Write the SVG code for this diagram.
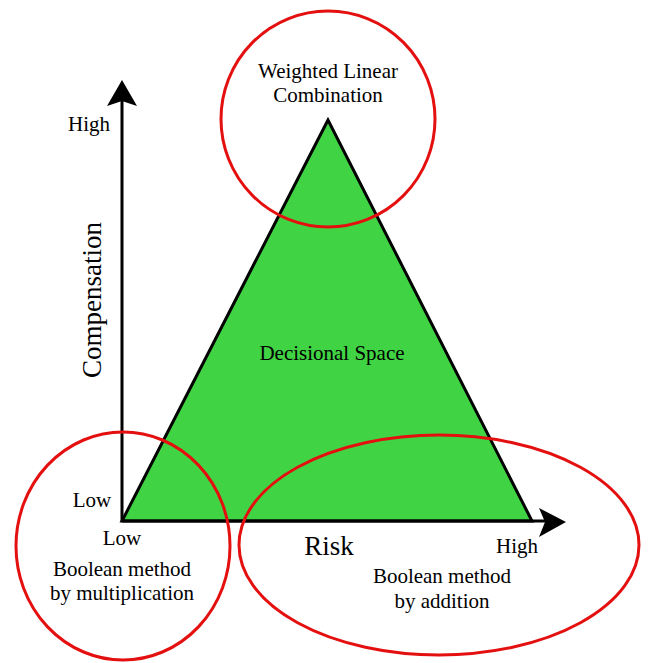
<svg xmlns="http://www.w3.org/2000/svg" width="650" height="663" viewBox="0 0 650 663">
<style>
text{font-family:"Liberation Serif","Times New Roman",serif;fill:#000;text-anchor:middle}
.lbl{font-size:21px}
.ax{font-size:27px}
.ring{fill:none;stroke:#e41010;stroke-width:3}
.axis{stroke:#000;stroke-width:3;fill:none}
</style>
<rect width="650" height="663" fill="#fff"/>
<g id="triangle">
<polygon points="328,120 122,521 532,521" fill="#40d444" stroke="#000" stroke-width="3" stroke-linejoin="miter"/>
<text class="lbl" x="332" y="360">Decisional Space</text>
</g>
<g id="connectors">
<line class="axis" x1="122" y1="521" x2="122" y2="100"/>
<polygon points="122,80 137,106 122,101 107,106" fill="#000"/>
<line class="axis" x1="122" y1="521" x2="545" y2="521"/>
<polygon points="566,522 539,508 545,522 539,537" fill="#000"/>
</g>
<g id="axis-labels">
<text class="ax" transform="translate(101,300) rotate(-90)">Compensation</text>
<text class="ax" x="329" y="555">Risk</text>
<text class="lbl" x="89" y="131">High</text>
<text class="lbl" x="92" y="507">Low</text>
<text class="lbl" x="122" y="545">Low</text>
<text class="lbl" x="517" y="553">High</text>
</g>
<g id="wlc">
<ellipse class="ring" cx="328" cy="119" rx="107" ry="108"/>
<text class="lbl" x="328" y="78">Weighted Linear</text>
<text class="lbl" x="328" y="102">Combination</text>
</g>
<g id="mult">
<ellipse class="ring" cx="123" cy="546" rx="107" ry="114"/>
<text class="lbl" x="122" y="576">Boolean method</text>
<text class="lbl" x="122" y="600">by multiplication</text>
</g>
<g id="add">
<ellipse class="ring" cx="439" cy="545" rx="200" ry="110"/>
<text class="lbl" x="442" y="583">Boolean method</text>
<text class="lbl" x="442" y="608">by addition</text>
</g>
</svg>
